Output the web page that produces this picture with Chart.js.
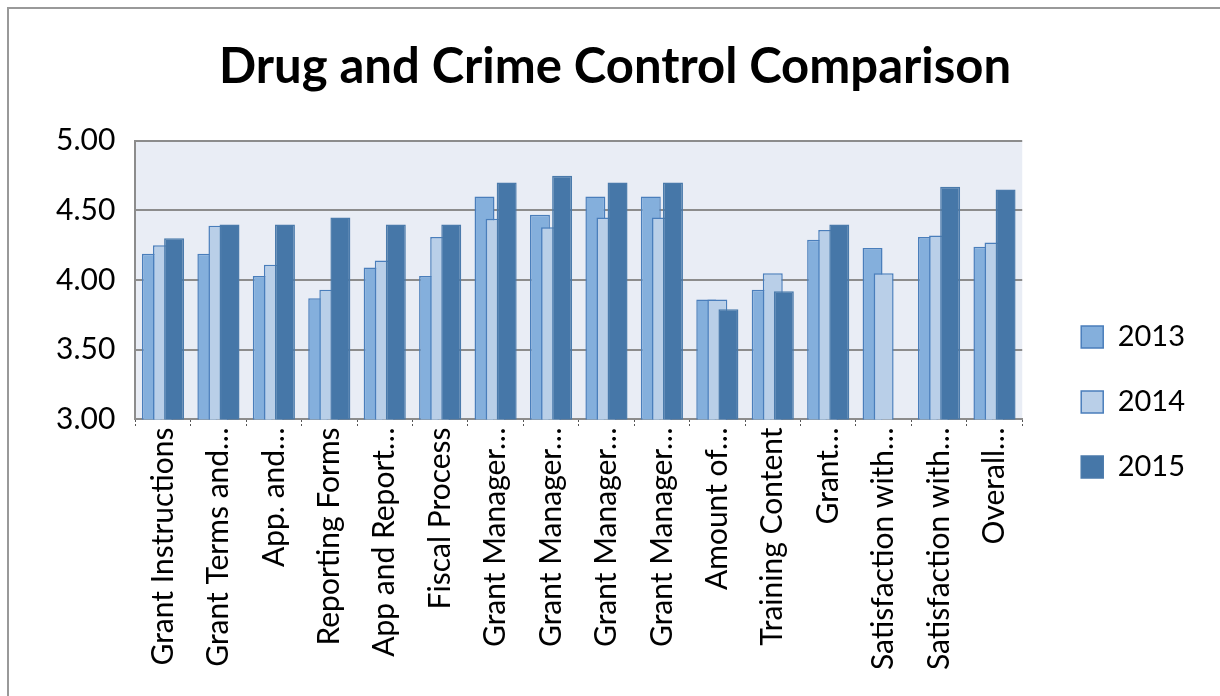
<!DOCTYPE html>
<html>
<head>
<meta charset="utf-8">
<script src="https://cdn.jsdelivr.net/npm/chart.js@4.4.1/dist/chart.umd.min.js"></script>
<style>
  body { margin: 0; background: #fff; }
  #frame { position: absolute; left: 7px; top: 7px; width: 1220px; height: 700px; border: 2px solid #999; box-sizing: border-box; }
  #chart { position: absolute; left: 0; top: 0; }
</style>
</head>
<body>
<div id="frame"></div>
<canvas id="chart" width="1220" height="696"></canvas>
<script>
// categories (truncated as in the original)
const categories = [
    'Grant Instructions', 'Grant Terms and\u2026', 'App. and\u2026', 'Reporting Forms',
    'App and Report\u2026', 'Fiscal Process', 'Grant Manager\u2026', 'Grant Manager\u2026',
    'Grant Manager\u2026', 'Grant Manager\u2026', 'Amount of\u2026', 'Training Content',
    'Grant\u2026', 'Satisfaction with\u2026', 'Satisfaction with\u2026', 'Overall\u2026'
];

const values2013 = [4.19, 4.19, 4.03, 3.87, 4.09, 4.03, 4.60, 4.47, 4.60, 4.60, 3.86, 3.93, 4.29, 4.23, 4.31, 4.24];
const values2014 = [4.25, 4.39, 4.11, 3.93, 4.14, 4.31, 4.44, 4.38, 4.45, 4.45, 3.86, 4.05, 4.36, 4.05, 4.32, 4.27];
const values2015 = [4.30, 4.40, 4.40, 4.45, 4.40, 4.40, 4.70, 4.75, 4.70, 4.70, 3.79, 3.92, 4.40, null, 4.67, 4.65];

const yTicks = [3.0, 3.5, 4.0, 4.5, 5.0];

const FONT = 'Lato, "Open Sans", sans-serif';

// plot area background
const plotBg = {
    id: 'plotBg',
    beforeDraw(chart) {
        const a = chart.chartArea;
        const ctx = chart.ctx;
        ctx.save();
        ctx.fillStyle = '#e9edf5';
        ctx.fillRect(a.left, a.top, a.right - a.left, a.bottom - a.top);
        ctx.restore();
    }
};

// draw later series on top (like excel overlap)
const drawOrder = {
    id: 'drawOrder',
    beforeDatasetsDraw(chart) {
        chart.getSortedVisibleDatasetMetas().forEach(m => chart._drawDataset(m));
        return false;
    }
};

// nudge legend and title into place
const boxShift = {
    id: 'boxShift',
    afterLayout(chart) {
        const l = chart.legend;
        l.left += 23; l.right += 23;
        l.top += 48; l.bottom += 48;
        const t = chart.titleBlock;
        t.left += 11; t.right += 11;
    }
};

function bar(label, data, fill, border) {
    return {
        label: label,
        data: data,
        backgroundColor: fill,
        borderColor: border,
        borderWidth: 1.5,
        categoryPercentage: 0.6,
        barPercentage: 1.8
    };
}

new Chart(document.getElementById('chart'), {
    type: 'bar',
    data: {
        labels: categories,
        datasets: [
            bar('2013', values2013, '#84afdc', '#4a7ebb'),
            bar('2014', values2014, '#b9cfe8', '#4a7ebb'),
            bar('2015', values2015, '#4677a8', '#4a7aab')
        ]
    },
    options: {
        responsive: false,
        animation: false,
        layout: {
            padding: { left: 36, right: 48, top: 38, bottom: 26 }
        },
        plugins: {
            title: {
                display: true,
                text: 'Drug and Crime Control Comparison',
                color: '#000',
                font: { family: FONT, size: 49, weight: 'bold' },
                padding: { top: 0, bottom: 44 }
            },
            legend: {
                position: 'right',
                labels: {
                    color: '#000',
                    font: { family: FONT, size: 29 },
                    boxWidth: 22,
                    boxHeight: 22,
                    padding: 36
                }
            },
            tooltip: { enabled: false }
        },
        scales: {
            x: {
                grid: {
                    display: true,
                    offset: true,
                    drawOnChartArea: false,
                    tickLength: 8,
                    color: '#555',
                    tickBorderDash: [2, 2]
                },
                border: { color: '#8c8c8c', width: 2 },
                ticks: {
                    color: '#000',
                    font: { family: FONT, size: 30 },
                    minRotation: 90,
                    maxRotation: 90,
                    autoSkip: false,
                    padding: 0
                }
            },
            y: {
                min: 3,
                max: 5,
                afterBuildTicks: (axis) => { axis.ticks = yTicks.map(v => ({ value: v })); },
                grid: { color: '#8c8c8c', lineWidth: 2, drawTicks: false },
                border: { color: '#8c8c8c', width: 2 },
                ticks: {
                    color: '#000',
                    font: { family: FONT, size: 30 },
                    padding: 20,
                    callback: (v) => Number(v).toFixed(2)
                }
            }
        }
    },
    plugins: [plotBg, drawOrder, boxShift]
});
</script>
</body>
</html>
